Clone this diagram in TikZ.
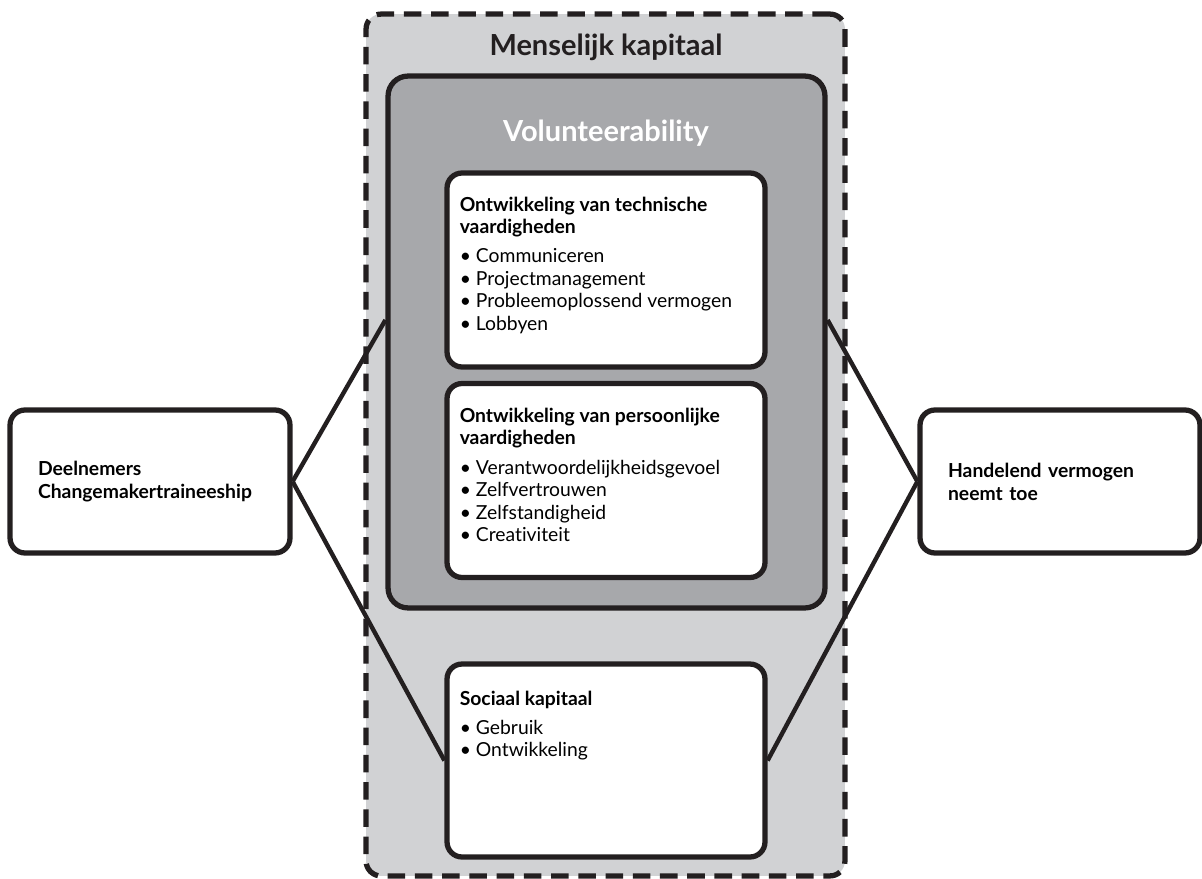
\documentclass[tikz,border=0pt]{standalone}
\usepackage{fontspec}
\setmainfont{Lato}[Ligatures=NoCommon]
\usetikzlibrary{positioning}
\definecolor{lightgrey}{HTML}{D1D2D4}
\definecolor{darkgrey}{HTML}{A7A8AB}
\definecolor{ink}{HTML}{231F20}
\tikzset{
	frame/.style={draw=ink, line width=3pt, rounded corners=0.3cm, inner sep=0pt},
	card/.style={frame, fill=white, minimum width=6.36cm, minimum height=3.88cm},
	side/.style={frame, fill=white, minimum width=5.6cm, minimum height=2.86cm,
		text width=4.48cm, align=left, font=\fontsize{11}{13}\selectfont\bfseries},
	link/.style={draw=ink, line width=2.5pt},
	cardtext/.style={anchor=north west, inner sep=0pt, align=left,
		font=\fontsize{11}{12.75}\selectfont},
	heading/.style={inner sep=0pt, font=\fontsize{16.5}{18}\selectfont\bfseries}
}

\begin{document}
\begin{tikzpicture}[x=0.02cm,y=-0.02cm]
	\useasboundingbox (0,0) rectangle (1202,878);

	% containers
	\node[frame, fill=lightgrey, dash pattern=on 10pt off 5.5pt,
		minimum width=9.58cm, minimum height=17.24cm] (human) at (605.5,445) {};
	\node[heading, text=ink] (humantitle) at (606,47) {Menselijk kapitaal};

	\node[frame, fill=darkgrey, rounded corners=0.4cm,
		minimum width=8.74cm, minimum height=10.64cm] (vol) at (606.5,342) {};
	\node[heading, text=white] (voltitle) at (606,133) {Volunteerability};

	\node[side] (part) at (150,481.5) {Deelnemers\\Changemakertraineeship};
	\node[side] (agency) at (1060,481.5) {Handelend vermogen\\neemt toe};

	% connectors
	\draw[link] (part.east) -- ([yshift=0.44cm]vol.west);
	\draw[link] ([yshift=0.44cm]vol.east) -- (agency.west);

	% cards
	\node[card] (tech) at (606,270) {};
	\node[card] (pers) at (606,480.5) {};
	\node[card, minimum height=3.86cm] (soc) at (606,760.5) {};
	\draw[link] (part.east) -- (soc.west);
	\draw[link] (agency.west) -- (soc.east);

	\node[cardtext, below right=0.52cm and 0.3cm of tech.north west] (techtext) {%
		\textbf{Ontwikkeling van technische}\\
		\textbf{vaardigheden}\\[4pt]
		• Communiceren\\
		• Projectmanagement\\
		• Probleemoplossend vermogen\\
		• Lobbyen};
	\node[cardtext, below right=0.54cm and 0.3cm of pers.north west] (perstext) {%
		\textbf{Ontwikkeling van persoonlijke}\\
		\textbf{vaardigheden}\\[4pt]
		• Verantwoordelijkheidsgevoel\\
		• Zelfvertrouwen\\
		• Zelfstandigheid\\
		• Creativiteit};
	\node[cardtext, below right=0.58cm and 0.3cm of soc.north west] (soctext) {%
		\textbf{Sociaal kapitaal}\\[4pt]
		• Gebruik\\
		• Ontwikkeling};
\end{tikzpicture}
\end{document}
